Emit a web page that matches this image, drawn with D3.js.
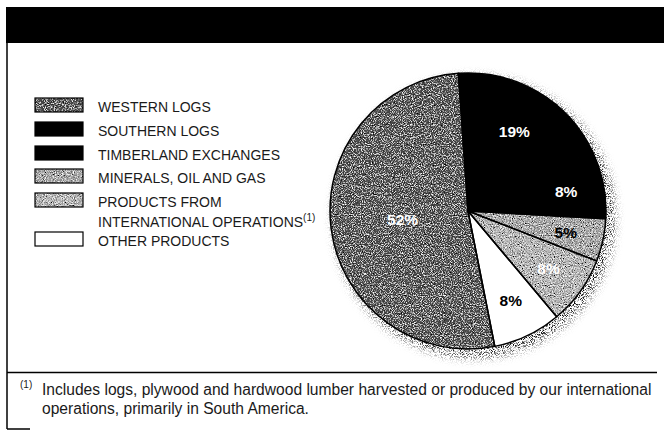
<!DOCTYPE html>
<html>
<head>
<meta charset="utf-8">
<script src="https://cdn.jsdelivr.net/npm/d3@7"></script>
<style>
  body { margin: 0; background: #fff; }
  svg { display: block; font-family: 'Liberation Sans', Arial, sans-serif; }
</style>
</head>
<body>
<div id="chart"></div>
<script>
const categories = ['WESTERN LOGS', 'SOUTHERN LOGS', 'TIMBERLAND EXCHANGES', 'MINERALS, OIL AND GAS', 'PRODUCTS FROM INTERNATIONAL OPERATIONS', 'OTHER PRODUCTS'];
const values = [52, 19, 8, 5, 8, 8];
// order of slices clockwise from the top
const pieOrder = [1, 2, 3, 4, 5, 0];
const footnoteLines = [
  'Includes logs, plywood and hardwood lumber harvested or produced by our international',
  'operations, primarily in South America.'
];

const width = 664;
const height = 430;

const fills = ['#505050', '#000', '#000', '#a6a6a6', '#b6b6b6', '#fff'];
const grainy = [true, false, false, true, true, false];
const labelColor = ['#fff', '#fff', '#fff', '#000', '#fff', '#000'];
const labelRadius = [66, 92, 100, 100, 99, 99];

const svg = d3.select('#chart')
  .append('svg')
  .attr('width', width)
  .attr('height', height);

const defs = svg.append('defs');

const grain = defs.append('filter')
  .attr('id', 'grain')
  .attr('x', '-5%').attr('y', '-5%')
  .attr('width', '110%').attr('height', '110%');
grain.append('feTurbulence')
  .attr('type', 'fractalNoise')
  .attr('baseFrequency', 0.9)
  .attr('numOctaves', 2)
  .attr('seed', 7)
  .attr('result', 'noise');
grain.append('feColorMatrix')
  .attr('in', 'noise')
  .attr('type', 'matrix')
  .attr('values', '1.8 0 0 0 -0.4  1.8 0 0 0 -0.4  1.8 0 0 0 -0.4  0 0 0 0 1')
  .attr('result', 'gray');
grain.append('feBlend')
  .attr('in', 'gray')
  .attr('in2', 'SourceGraphic')
  .attr('mode', 'hard-light')
  .attr('result', 'mix');
grain.append('feComposite')
  .attr('in', 'mix')
  .attr('in2', 'SourceGraphic')
  .attr('operator', 'in');

const shadow = defs.append('filter')
  .attr('id', 'shadow')
  .attr('x', '-20%').attr('y', '-20%')
  .attr('width', '140%').attr('height', '140%');
shadow.append('feGaussianBlur')
  .attr('in', 'SourceGraphic')
  .attr('stdDeviation', 5)
  .attr('result', 'blur');
shadow.append('feTurbulence')
  .attr('type', 'fractalNoise')
  .attr('baseFrequency', 1.1)
  .attr('numOctaves', 1)
  .attr('seed', 3)
  .attr('result', 'noise');
shadow.append('feColorMatrix')
  .attr('in', 'noise')
  .attr('type', 'matrix')
  .attr('values', '0 0 0 0 0  0 0 0 0 0  0 0 0 0 0  0 0 0 -5 2.65')
  .attr('result', 'dots');
shadow.append('feComposite')
  .attr('in', 'dots')
  .attr('in2', 'blur')
  .attr('operator', 'arithmetic')
  .attr('k1', 1).attr('k2', 0).attr('k3', 0).attr('k4', 0);

// frame
svg.append('rect')
  .attr('x', 6).attr('y', 7)
  .attr('width', width - 6).attr('height', 36)
  .attr('fill', '#000');

svg.append('line')
  .attr('x1', 7).attr('x2', 7)
  .attr('y1', 40).attr('y2', 429)
  .attr('stroke', '#000').attr('stroke-width', 1.5);

svg.append('line')
  .attr('x1', 7).attr('x2', 657)
  .attr('y1', 372.5).attr('y2', 372.5)
  .attr('stroke', '#000').attr('stroke-width', 1.5);

svg.append('line')
  .attr('x1', 7).attr('x2', 30)
  .attr('y1', 429).attr('y2', 429)
  .attr('stroke', '#000').attr('stroke-width', 1.5);

// pie
const cx = 468, cy = 211, radius = 138;
const startA = -4 * Math.PI / 180;

const pie = d3.pie()
  .sort(null)
  .value((i) => values[i])
  .startAngle(startA)
  .endAngle(startA + 2 * Math.PI);

const arc = d3.arc().innerRadius(0).outerRadius(radius);

const g = svg.append('g')
  .attr('transform', 'translate(' + cx + ',' + cy + ')');

g.append('circle')
  .attr('cx', 6).attr('cy', 6)
  .attr('r', radius + 3)
  .attr('fill', '#000')
  .attr('filter', 'url(#shadow)');

const slices = pie(pieOrder);

g.selectAll('.slice')
  .data(slices)
  .enter()
  .append('path')
  .attr('class', 'slice')
  .attr('d', arc)
  .attr('fill', (d) => fills[d.data])
  .attr('filter', (d) => grainy[d.data] ? 'url(#grain)' : null);

g.selectAll('.edge')
  .data(slices)
  .enter()
  .append('path')
  .attr('class', 'edge')
  .attr('d', arc)
  .attr('fill', 'none')
  .attr('stroke', '#000')
  .attr('stroke-width', 1.5)
  .attr('stroke-linejoin', 'round');

g.selectAll('.label')
  .data(slices)
  .enter()
  .append('text')
  .attr('class', 'label')
  .attr('transform', (d) => {
    const r = labelRadius[d.data];
    const a = (d.startAngle + d.endAngle) / 2;
    return 'translate(' + (r * Math.sin(a)) + ',' + (-r * Math.cos(a)) + ')';
  })
  .attr('text-anchor', 'middle')
  .attr('dy', '0.36em')
  .attr('fill', (d) => labelColor[d.data])
  .style('font-size', '15.5px')
  .style('font-weight', 'bold')
  .text((d) => values[d.data] + '%');

// legend
const legendY = [98, 122, 146, 169, 193, 232];
const legend = svg.append('g');

legend.selectAll('.swatch')
  .data(categories)
  .enter()
  .append('rect')
  .attr('class', 'swatch')
  .attr('x', 35)
  .attr('y', (d, i) => legendY[i])
  .attr('width', 48)
  .attr('height', 14)
  .attr('fill', (d, i) => fills[i])
  .attr('filter', (d, i) => grainy[i] ? 'url(#grain)' : null);

legend.selectAll('.swatch-edge')
  .data(categories)
  .enter()
  .append('rect')
  .attr('class', 'swatch-edge')
  .attr('x', 35)
  .attr('y', (d, i) => legendY[i])
  .attr('width', 48)
  .attr('height', 14)
  .attr('fill', 'none')
  .attr('stroke', '#000')
  .attr('stroke-width', 1.2);

const legendText = legend.selectAll('.ltext')
  .data(categories)
  .enter()
  .append('text')
  .attr('class', 'ltext')
  .attr('x', 98)
  .attr('y', (d, i) => legendY[i] + 14)
  .attr('fill', '#1a1a1a')
  .style('font-size', '14px');

legendText.each(function (d) {
  const t = d3.select(this);
  if (d.startsWith('PRODUCTS FROM')) {
    t.append('tspan').text('PRODUCTS FROM');
    t.append('tspan').attr('x', 98).attr('dy', 20).text('INTERNATIONAL OPERATIONS');
    t.append('tspan').attr('dy', -6).style('font-size', '10px').text('(1)');
  } else {
    t.text(d);
  }
});

// footnote
svg.append('text')
  .attr('x', 20).attr('y', 388)
  .attr('fill', '#1a1a1a')
  .style('font-size', '10px')
  .text('(1)');

svg.selectAll('.foot')
  .data(footnoteLines)
  .enter()
  .append('text')
  .attr('class', 'foot')
  .attr('x', 42)
  .attr('y', (d, i) => 395 + i * 19)
  .attr('fill', '#1a1a1a')
  .style('font-size', '15.6px')
  .text((d) => d);
</script>
</body>
</html>
